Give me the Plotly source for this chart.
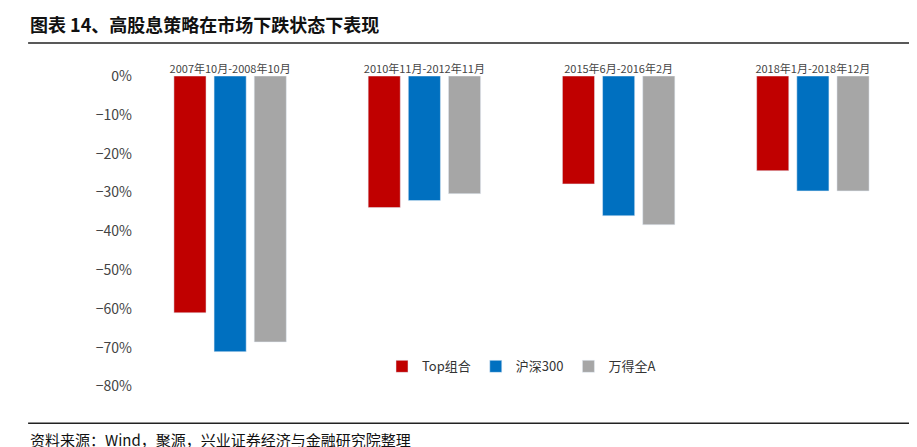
import plotly.graph_objects as go

categories = ["2007年10月-2008年10月", "2010年11月-2012年11月", "2015年6月-2016年2月", "2018年1月-2018年12月"]
series_names = ["Top组合", "沪深300", "万得全A"]
top_vals = [-61.0, -33.9, -27.8, -24.4]
hs300_vals = [-71.0, -32.1, -36.0, -29.6]
wind_vals = [-68.5, -30.3, -38.3, -29.6]
colors = ["#C00000", "#0070C0", "#A6A6A6"]

fig = go.Figure()
for name, vals, c in zip(series_names, [top_vals, hs300_vals, wind_vals], colors):
    fig.add_trace(go.Bar(x=categories, y=vals, name=name, marker_color=c))

fig.update_layout(
    width=917, height=447, paper_bgcolor="white", plot_bgcolor="white",
    margin=dict(l=125, r=15, t=68, b=49),
    barmode="group", bargap=0.38, bargroupgap=0.2,
    font=dict(family="Noto Sans CJK SC", size=13, color="#333"),
    xaxis=dict(side="top", showline=False, ticks="", tickfont=dict(size=11, color="#444")),
    yaxis=dict(range=[-85, 0], dtick=10, ticksuffix="%", showgrid=False, zeroline=False,
               tickfont=dict(size=14, color="#444"), showline=False),
    legend=dict(orientation="h", x=0.5, xanchor="center", y=0.12, yanchor="middle",
                font=dict(size=13), traceorder="normal"),
    showlegend=True,
)
fig.add_annotation(text="<b>图表 14、高股息策略在市场下跌状态下表现</b>", xref="paper", yref="paper",
                   x=-0.135, y=1.0, yshift=52, xanchor="left", yanchor="middle", showarrow=False,
                   font=dict(size=18, family="Noto Sans CJK SC", color="#111"))
fig.add_annotation(text="资料来源：Wind，聚源，兴业证券经济与金融研究院整理", xref="paper", yref="paper",
                   x=-0.135, y=0, yshift=-33, xanchor="left", yanchor="middle", showarrow=False,
                   font=dict(size=15, family="Noto Sans CJK SC", color="#111"))
fig.add_shape(type="line", xref="paper", yref="paper", x0=-0.135, x1=1.0, y0=1.1, y1=1.1,
              line=dict(color="#222", width=1.5))
fig.add_shape(type="line", xref="paper", yref="paper", x0=-0.135, x1=1.0, y0=-0.052, y1=-0.052,
              line=dict(color="#222", width=1.5))
fig.write_html("out.html")
